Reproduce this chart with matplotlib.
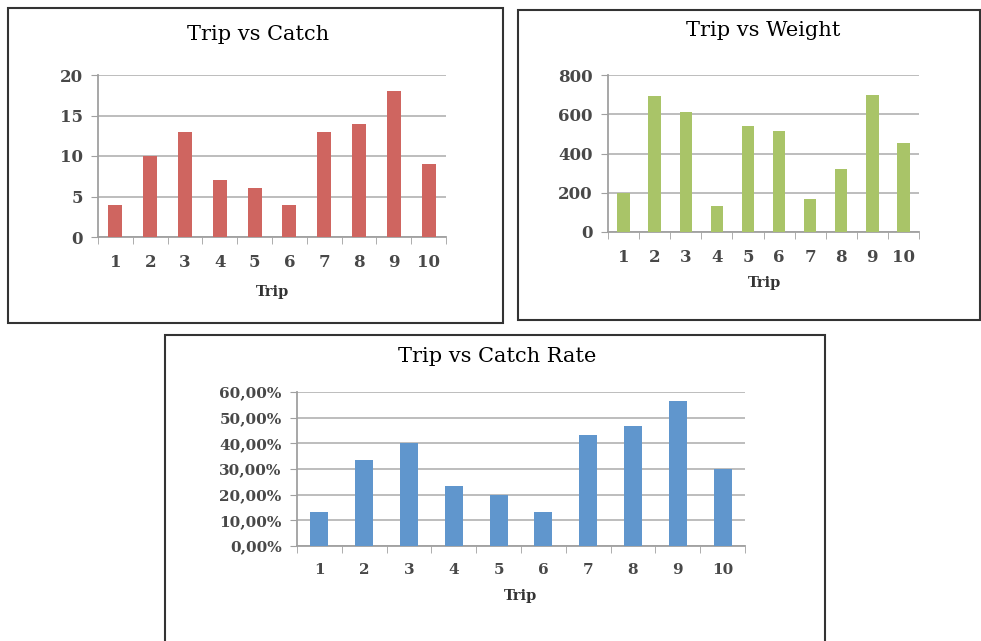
import matplotlib
matplotlib.use("Agg")
import matplotlib.pyplot as plt
from matplotlib.patches import Rectangle
from matplotlib.ticker import FuncFormatter

trips = [1, 2, 3, 4, 5, 6, 7, 8, 9, 10]
catch = [4, 10, 13, 7, 6, 4, 13, 14, 18, 9]
weight = [200, 695, 610, 135, 540, 515, 170, 320, 700, 455]
catch_rate = [13.33, 33.33, 40.0, 23.33, 20.0, 13.33, 43.33, 46.67, 56.67, 30.0]

W, H = 981, 641
plt.rcParams['font.family'] = ['DejaVu Serif']

fig = plt.figure(figsize=(W / 100, H / 100), dpi=100)
fig.patch.set_facecolor('white')

def fx(x):
    return x / W

def fy(y):
    return 1 - y / H

def border(x0, y0, x1, y1):
    fig.patches.append(Rectangle((fx(x0), fy(y1)), fx(x1 - x0), (y1 - y0) / H,
                                 transform=fig.transFigure, fill=False,
                                 ec='#333333', lw=1.5))

def panel(box, vals, color, ymax, step, title, tpos, lpos, fmt=None, tsize=12):
    l, r, t, b = box
    ax = fig.add_axes([fx(l), fy(b), fx(r - l), (b - t) / H])
    ax.bar(trips, vals, width=0.4, color=color, zorder=3)
    ax.set_xlim(0.5, 10.5)
    ax.set_ylim(0, ymax)
    ax.set_yticks(range(0, ymax + 1, step))
    ax.set_xticks(trips)
    ax.set_xticks([i + 0.5 for i in range(11)], minor=True)
    ax.tick_params(axis='x', which='major', length=0, pad=12,
                   labelsize=tsize, labelcolor='#484848')
    ax.tick_params(axis='x', which='minor', length=5, color='#A0A0A0', direction='out')
    ax.tick_params(axis='y', length=5, color='#A0A0A0', pad=6,
                   labelsize=tsize, labelcolor='#484848')
    if fmt:
        ax.yaxis.set_major_formatter(FuncFormatter(fmt))
    for lab in ax.get_xticklabels() + ax.get_yticklabels():
        lab.set_fontweight('bold')
    ax.grid(axis='y', color='#B8B8B8', lw=1.3, zorder=0)
    for s in ['top', 'right']:
        ax.spines[s].set_visible(False)
    for s in ['left', 'bottom']:
        ax.spines[s].set_color('#A0A0A0')
        ax.spines[s].set_linewidth(1.3)
    fig.text(fx(tpos[0]), fy(tpos[1]), title, ha='center', va='center',
             fontsize=15, color='black')
    fig.text(fx(lpos[0]), fy(lpos[1]), 'Trip', ha='center', va='center',
             fontsize=10.5, fontweight='bold', color='#333333')
    return ax

border(8, 8, 503, 323)
border(518, 10, 980, 320)
border(165, 335, 825, 645)

panel((98, 446, 75, 237), catch, '#CF6560', 20, 5, 'Trip vs Catch',
      (258, 35), (273, 292))
panel((608, 919, 75, 232), weight, '#A9C468', 800, 200, 'Trip vs Weight',
      (763, 31), (765, 283))
panel((297, 745, 392, 546), catch_rate, '#6096CD', 60, 10, 'Trip vs Catch Rate',
      (497, 356), (521, 596), fmt=lambda v, p: f"{v:.2f}".replace('.', ',') + '%',
      tsize=11)

fig.savefig('out.png', dpi=100, facecolor='white')
